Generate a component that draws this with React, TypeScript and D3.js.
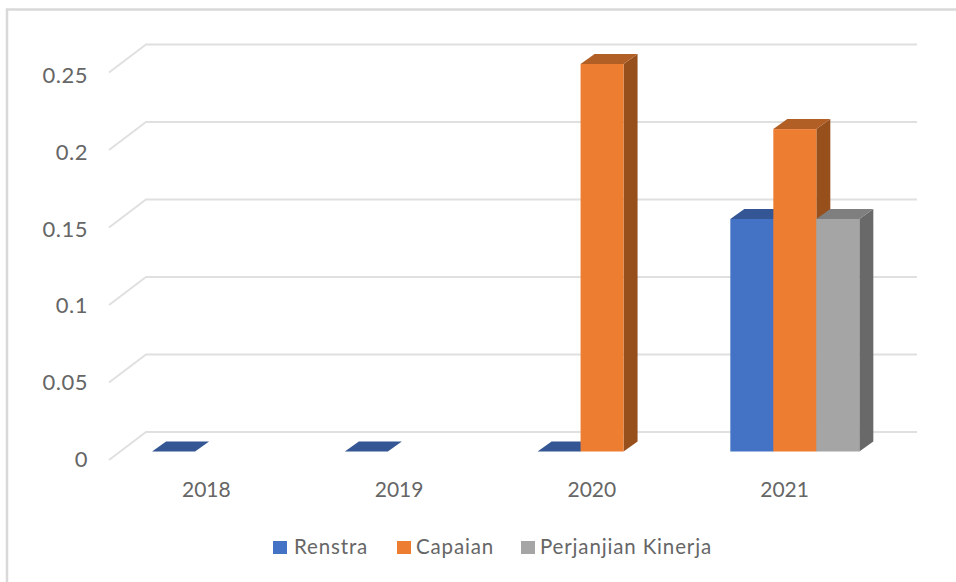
import React from "react";
import * as d3 from "d3";

const years = ["2018", "2019", "2020", "2021"];
const seriesNames = ["Renstra", "Capaian", "Perjanjian Kinerja"];
const renstra = [0, 0, 0, 0.15];
const capaian = [null, null, 0.25, 0.208];
const perjanjian = [null, null, null, 0.15];
const seriesValues = [renstra, capaian, perjanjian];
const yTicks = [0, 0.05, 0.1, 0.15, 0.2, 0.25];

const front = ["#4472C4", "#ED7D31", "#A5A5A5"];
const top = ["#345694", "#B15F25", "#7F7F7F"];
const side = ["#29446F", "#97501C", "#696969"];

const W = 956, H = 582;
const FONT = "Lato, 'Open Sans', sans-serif";
const TXT = "#666666";
const GRID = "#e0e0e0";

const y = d3.scaleLinear().domain([0, 0.25]).range([451.5, 64]);
const labelY = d3.scaleLinear().domain([0, 0.25]).range([467, 83]);
const floorFront = 460;
const x = d3.scaleBand().domain(years).range([109, 880]);
const barW = 43;
const groupW = barW * 3;
const planeDx = 11.2;
const depthDx = 14, depthDy = -10;
const wallDx = 37, wallDy = -28;

const tickY = (v: number) => floorFront - (y(0) - y(v));

export default function App() {
  const legendItems = [
    { x: 273, tx: 294 },
    { x: 397, tx: 416 },
    { x: 521, tx: 540 },
  ];
  return (
    <svg width={W} height={H} style={{ position: "fixed", left: 0, top: 0, background: "#fff" }} fontFamily={FONT}>
      <rect x={7} y={9.5} width={W + 20} height={H} fill="none" stroke="#d9d9d9" strokeWidth={2.5} />
      {yTicks.map((v) => (
        <g key={v}>
          <path
            d={`M${x.range()[0]},${tickY(v)}L${x.range()[0] + wallDx},${tickY(v) + wallDy}H${x.range()[1] + wallDx}`}
            fill="none"
            stroke={GRID}
            strokeWidth={2}
          />
          <text x={88} y={labelY(v)} textAnchor="end" fontSize={22} letterSpacing={0.5} fill={TXT}>
            {String(v)}
          </text>
        </g>
      ))}
      {years.map((yr) => (
        <text key={yr} x={(x(yr) as number) + x.bandwidth() / 2 + 1} y={497} textAnchor="middle" fontSize={21} fill={TXT}>
          {yr}
        </text>
      ))}
      {years.map((yr, yi) => {
        const gx = (x(yr) as number) + x.bandwidth() / 2 - groupW / 2 + planeDx;
        return (
          <g key={yr}>
            {seriesValues.map((vals, si) => {
              const v = vals[yi];
              if (v === null) return null;
              const x0 = gx + si * barW;
              const x1 = x0 + barW;
              const yt = y(v);
              const yb = y(0);
              return (
                <g key={si}>
                  <path d={`M${x1},${yt}L${x1 + depthDx},${yt + depthDy}V${yb + depthDy}L${x1},${yb}Z`} fill={side[si]} />
                  <path d={`M${x0},${yt}L${x0 + depthDx},${yt + depthDy}H${x1 + depthDx}L${x1},${yt}Z`} fill={top[si]} />
                  <rect x={x0} y={yt} width={barW} height={yb - yt} fill={front[si]} />
                </g>
              );
            })}
          </g>
        );
      })}
      {seriesNames.map((name, i) => (
        <g key={name}>
          <rect x={legendItems[i].x} y={541} width={14} height={13} fill={front[i]} />
          <text x={legendItems[i].tx} y={554} fontSize={20.5} letterSpacing={0.85} fill={TXT}>
            {name}
          </text>
        </g>
      ))}
    </svg>
  );
}
